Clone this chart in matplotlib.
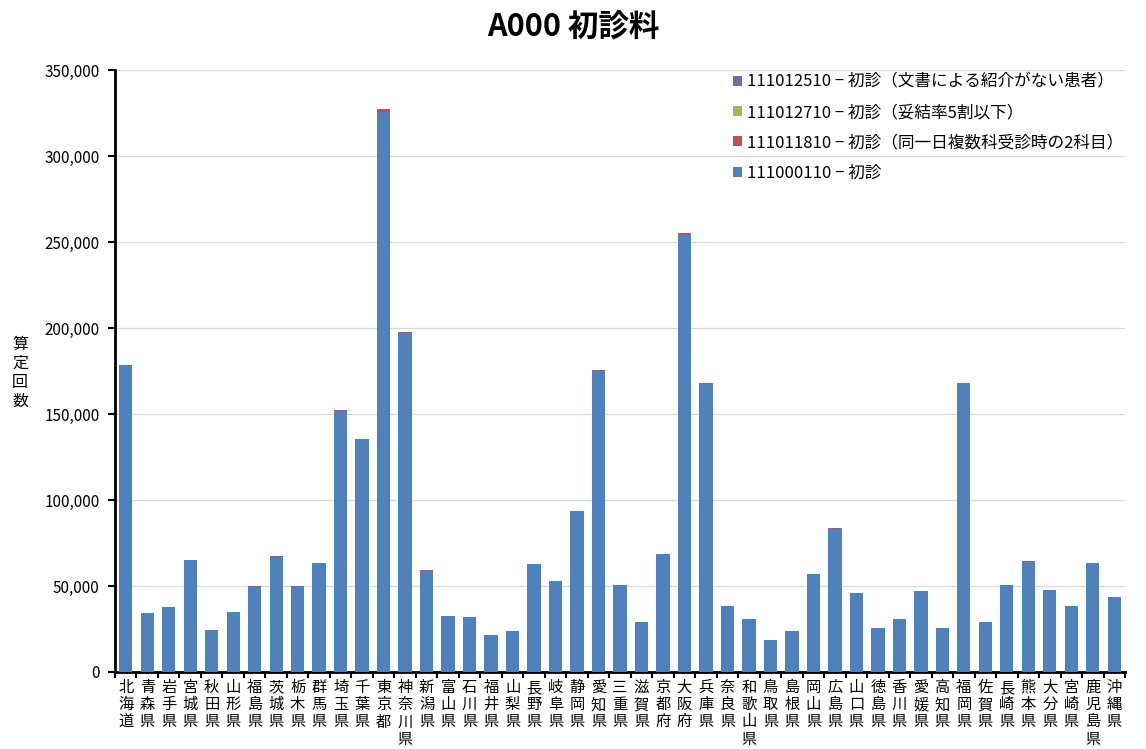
import matplotlib
matplotlib.use("Agg")
import matplotlib.pyplot as plt
import numpy as np
from matplotlib.ticker import FuncFormatter, MultipleLocator

plt.rcParams['font.family'] = ['Noto Sans CJK JP', 'DejaVu Sans']

prefectures = [
    "北海道", "青森県", "岩手県", "宮城県", "秋田県", "山形県", "福島県", "茨城県",
    "栃木県", "群馬県", "埼玉県", "千葉県", "東京都", "神奈川県", "新潟県", "富山県",
    "石川県", "福井県", "山梨県", "長野県", "岐阜県", "静岡県", "愛知県", "三重県",
    "滋賀県", "京都府", "大阪府", "兵庫県", "奈良県", "和歌山県", "鳥取県", "島根県",
    "岡山県", "広島県", "山口県", "徳島県", "香川県", "愛媛県", "高知県", "福岡県",
    "佐賀県", "長崎県", "熊本県", "大分県", "宮崎県", "鹿児島県", "沖縄県",
]

# 111000110 - 初診
shoshin = [
    178500, 34200, 37700, 65200, 24400, 34700, 49500, 67000,
    49500, 63400, 152000, 135400, 325800, 197000, 58800, 32500,
    32000, 21600, 23900, 62800, 52900, 93500, 175000, 50500,
    29000, 68400, 254200, 167300, 38300, 30800, 18500, 23900,
    57100, 83300, 45900, 25300, 30800, 47000, 25600, 167800,
    28900, 50500, 63900, 47700, 38300, 63400, 43600,
]
# 111011810 - 初診(同一日複数科受診時の2科目)
nikamoku = [
    200, 50, 50, 100, 50, 50, 200, 300,
    200, 100, 500, 300, 1200, 700, 300, 50,
    50, 50, 50, 100, 100, 100, 400, 100,
    50, 100, 1200, 600, 50, 50, 30, 30,
    100, 200, 100, 200, 50, 100, 50, 400,
    200, 100, 400, 100, 100, 100, 50,
]
# 111012710 - 初診(妥結率5割以下)
dakketsu = [0] * 47
# 111012510 - 初診(文書による紹介がない患者)
shokai_nashi = [
    20, 5, 5, 10, 5, 5, 10, 10,
    10, 10, 30, 30, 80, 40, 10, 5,
    5, 5, 5, 10, 10, 20, 40, 10,
    5, 20, 60, 30, 5, 5, 5, 5,
    10, 20, 10, 5, 5, 10, 5, 30,
    5, 10, 10, 10, 5, 10, 5,
]

series = [
    ("111000110 − 初診", shoshin, "#4F81BD"),
    ("111011810 − 初診（同一日複数科受診時の2科目）", nikamoku, "#C0504D"),
    ("111012710 − 初診（妥結率5割以下）", dakketsu, "#9BBB59"),
    ("111012510 − 初診（文書による紹介がない患者）", shokai_nashi, "#8064A2"),
]

fig = plt.figure(figsize=(11.46, 7.49), dpi=100)
ax = fig.add_axes([115 / 1146, 1 - 672 / 749, 1010 / 1146, 602 / 749])

x = np.arange(len(prefectures))
bottom = np.zeros(len(prefectures))
handles = []
for label, vals, color in series:
    vals = np.array(vals, dtype=float)
    b = ax.bar(x, vals, width=0.62, bottom=bottom, color=color, label=label, zorder=3)
    handles.append(b)
    bottom += vals

ax.set_xlim(-0.5, len(prefectures) - 0.5)
ax.set_ylim(0, 350000)
ax.yaxis.set_major_locator(MultipleLocator(50000))
ax.yaxis.set_major_formatter(FuncFormatter(lambda v, p: f"{int(v):,}"))
ax.grid(axis="y", color="#d9d9d9", linewidth=0.9, zorder=0)
ax.set_axisbelow(True)

for s in ["top", "right"]:
    ax.spines[s].set_visible(False)
ax.spines["left"].set_linewidth(2)
ax.spines["bottom"].set_linewidth(2)

ax.tick_params(axis="y", direction="out", length=5, width=1.5, labelsize=11, pad=6)
ax.set_xticks(x)
ax.set_xticklabels(["\n".join(p) for p in prefectures], fontsize=11, linespacing=1.02)
ax.tick_params(axis="x", length=0, pad=5)
ax.set_xticks(np.arange(-0.5, len(prefectures), 1), minor=True)
ax.tick_params(axis="x", which="minor", direction="out", length=4, width=1.5)
for lbl in ax.get_xticklabels():
    lbl.set_verticalalignment("top")

fig.text(20 / 1146, 1 - 373 / 749, "\n".join("算定回数"), fontsize=11.5,
         ha="center", va="center", linespacing=1.15)

fig.suptitle("A000 初診料", fontsize=22, fontweight="bold", y=1 - 28 / 749, va="center")

leg = ax.legend(handles[::-1], [s[0] for s in series][::-1], loc="upper right",
                bbox_to_anchor=(1.005, 1.005), frameon=False, fontsize=12,
                handlelength=0.55, handleheight=0.55, handletextpad=0.3,
                labelspacing=0.8, borderaxespad=0.0)

fig.savefig("out.png", dpi=100)
